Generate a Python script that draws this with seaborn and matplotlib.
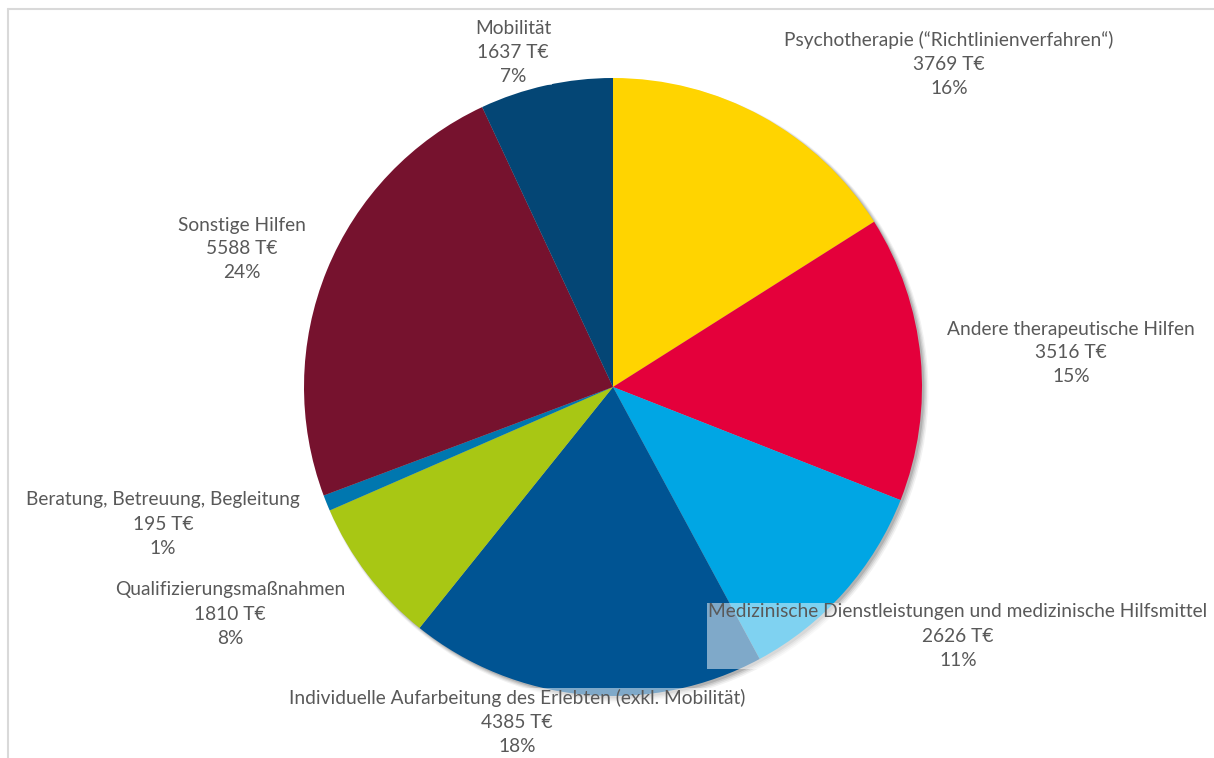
import matplotlib
matplotlib.use("Agg")
import matplotlib.pyplot as plt
from matplotlib.patches import Circle
from matplotlib.lines import Line2D
import seaborn as sns

sns.set_theme(style="white")
plt.rcParams["font.family"] = ["Lato", "DejaVu Sans"]

# Ausgaben nach Hilfeart (in Tausend Euro)
categories = [
    "Psychotherapie (\u201cRichtlinienverfahren\u201c)",
    "Andere therapeutische Hilfen",
    "Medizinische Dienstleistungen und medizinische Hilfsmittel",
    "Individuelle Aufarbeitung des Erlebten (exkl. Mobilit\u00e4t)",
    "Qualifizierungsma\u00dfnahmen",
    "Beratung, Betreuung, Begleitung",
    "Sonstige Hilfen",
    "Mobilit\u00e4t",
]
amounts = [3769, 3516, 2626, 4385, 1810, 195, 5588, 1637]
percent_labels = ["16%", "15%", "11%", "18%", "8%", "1%", "24%", "7%"]
colors = ["#FFD400", "#E4003B", "#00A6E4", "#005493",
          "#A8C714", "#0077AF", "#76122E", "#044675"]

# label anchor (centre x, middle line y) in pixel coordinates from top-left
label_pos = [(949, 64), (1071, 353), (958, 636), (517, 722),
             (230, 614), (163, 524), (242, 249), (513, 52)]

W, H = 1214, 758
fig = plt.figure(figsize=(W / 100, H / 100), dpi=100)
ax = fig.add_axes([0, 0, 1, 1])

cx, cy, r = 613, H - 387, 309

# soft drop shadow behind the pie
for i, a in enumerate([0.05, 0.07, 0.09, 0.12]):
    off = 4 - i * 0.6
    ax.add_patch(Circle((cx + off, cy - off), r + 2.5 - i * 0.8,
                        color="black", alpha=a, lw=0, zorder=1))

ax.pie(amounts, colors=colors, startangle=90, counterclock=False,
       center=(cx, cy), radius=r, frame=True,
       wedgeprops=dict(linewidth=0, antialiased=True, zorder=2))
ax.set_xlim(0, W)
ax.set_ylim(0, H)
ax.set_aspect("equal")
ax.axis("off")

for cat, amt, pct, (lx, ly) in zip(categories, amounts, percent_labels, label_pos):
    ax.text(lx, H - ly, f"{cat}\n{amt} T\u20ac\n{pct}", ha="center", va="center",
            fontsize=13.8, color="#595959", linespacing=1.5, zorder=5,
            bbox=dict(boxstyle="square,pad=0.05", fc="white", ec="none", alpha=0.5))

# outer chart frame
fig.add_artist(Line2D([8 / W, 1], [1 - 9 / H, 1 - 9 / H], transform=fig.transFigure,
                      color="#D9D9D9", lw=1.5))
fig.add_artist(Line2D([8 / W, 8 / W], [0, 1 - 9 / H], transform=fig.transFigure,
                      color="#D9D9D9", lw=1.5))

fig.savefig("out.png", dpi=100, facecolor="white")
